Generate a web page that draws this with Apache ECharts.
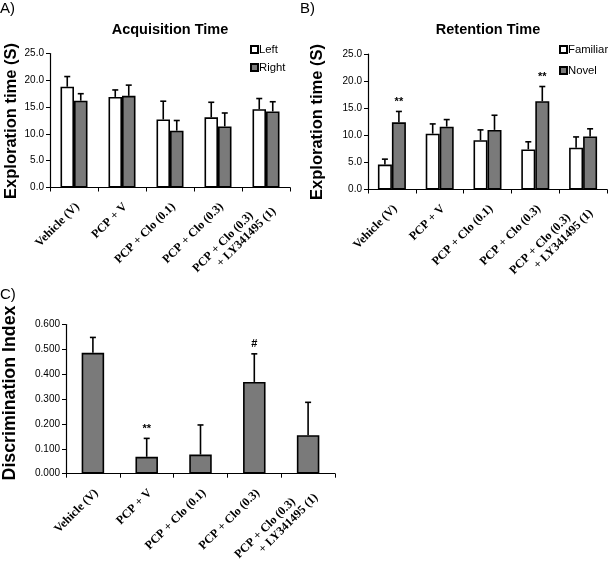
<!DOCTYPE html>
<html>
<head>
<meta charset="utf-8">
<script src="https://cdn.jsdelivr.net/npm/echarts@6/dist/echarts.min.js"></script>
<style>
html,body{margin:0;padding:0;background:#fff;}
#chart{width:608px;height:561px;}
</style>
</head>
<body>
<div id="chart"></div>
<script>
// ---------- data ----------
const categories = ['Vehicle (V)', 'PCP + V', 'PCP + Clo (0.1)', 'PCP + Clo (0.3)', 'PCP + Clo (0.3)\n+ LY341495 (1)'];

// Panel A: Acquisition time
const acqLeft = [18.8, 16.9, 12.7, 13.1, 14.6];
const acqLeftErr = [1.9, 1.3, 3.4, 2.8, 2.0];
const acqRight = [16.2, 17.1, 10.6, 11.4, 14.2];
const acqRightErr = [1.3, 2.0, 1.9, 2.5, 1.8];

// Panel B: Retention time
const retFamiliar = [4.6, 10.3, 9.1, 7.4, 7.7];
const retFamiliarErr = [1.0, 1.8, 1.9, 1.4, 2.0];
const retNovel = [12.4, 11.6, 11.0, 16.3, 9.8];
const retNovelErr = [2.0, 1.3, 2.7, 2.7, 1.4];
const retNovelSig = ['**', '', '', '**', ''];

// Panel C: Discrimination index
const discIndex = [0.486, 0.068, 0.077, 0.369, 0.155];
const discErr = [0.062, 0.074, 0.119, 0.113, 0.132];
const discSig = ['', '**', '', '#', ''];

// ---------- styling helpers ----------
const GRAY = '#7a7a7a';
const labelFont = {fontFamily: 'Liberation Serif', fontWeight: 'bold', fontSize: 12, color: '#000'};

function errData(vals, errs, sig) {
  return vals.map((v, i) => [i, v, errs[i], sig ? sig[i] : '']);
}

function errSeries(name, grid, vals, errs, sig, dxFrac) {
  return {
    type: 'custom', name: name, xAxisIndex: grid, yAxisIndex: grid, z: 5,
    data: errData(vals, errs, sig),
    renderItem: function (params, api) {
      const catW = api.size([1, 0])[0];
      const dx = catW * dxFrac;
      const base = api.coord([api.value(0), api.value(1)]);
      const top = api.coord([api.value(0), api.value(1) + api.value(2)]);
      const x = base[0] + dx;
      const children = [
        {type: 'line', shape: {x1: x, y1: base[1], x2: x, y2: top[1]}, style: {stroke: '#000', lineWidth: 1.6}},
        {type: 'line', shape: {x1: x - 3, y1: top[1], x2: x + 3, y2: top[1]}, style: {stroke: '#000', lineWidth: 1.6}}
      ];
      const s = sig ? sig[params.dataIndex] : '';
      if (s) {
        children.push({type: 'text', x: x, y: top[1] - 4,
          style: {text: s, fill: '#000', font: 'bold 11px "Liberation Sans"', textAlign: 'center', textVerticalAlign: 'bottom'}});
      }
      return {type: 'group', children: children};
    }
  };
}

function catLabel(value) {
  const parts = value.split('\n');
  if (parts.length > 1) {
    return '{a|' + parts[0] + '}\n{b|' + parts[1] + '}';
  }
  return value;
}

function xAxisCfg(grid) {
  return {
    type: 'category', gridIndex: grid, data: categories,
    axisLine: {lineStyle: {color: '#000', width: 1.2}},
    axisTick: {show: true, alignWithLabel: false, length: 4, lineStyle: {color: '#000', width: 1}},
    axisLabel: Object.assign({
      rotate: 45, margin: 21, interval: 0, align: 'right', lineHeight: 13, padding: [0, -5, 0, 0],
      formatter: catLabel,
      rich: {
        a: Object.assign({padding: [0, 19, 0, 0], lineHeight: 13}, labelFont),
        b: Object.assign({lineHeight: 13}, labelFont)
      }
    }, labelFont)
  };
}

function yAxisCfg(grid, max, interval, dec) {
  return {
    type: 'value', gridIndex: grid, min: 0, max: max, interval: interval,
    splitLine: {show: false},
    axisLine: {show: true, lineStyle: {color: '#000', width: 1.2}},
    axisTick: {show: true, length: 4, lineStyle: {color: '#000'}},
    axisLabel: {formatter: v => v.toFixed(dec), fontFamily: 'Liberation Sans', fontSize: 10, color: '#000', margin: 6}
  };
}

const barBorder = {borderColor: '#000', borderWidth: 1.6};
const legendText = {fontFamily: 'Liberation Sans', fontSize: 11.3, color: '#000', padding: [0, 0, 0, -4]};

const option = {
  animation: false,
  backgroundColor: '#fff',
  grid: [
    {left: 50, top: 53.5, width: 240, height: 134, outerBoundsMode: 'none', containLabel: false},
    {left: 368, top: 54, width: 239, height: 135.5, outerBoundsMode: 'none', containLabel: false},
    {left: 66, top: 324.5, width: 269, height: 149.2, outerBoundsMode: 'none', containLabel: false}
  ],
  xAxis: [xAxisCfg(0), xAxisCfg(1), xAxisCfg(2)],
  yAxis: [yAxisCfg(0, 25, 5, 1), yAxisCfg(1, 25, 5, 1), yAxisCfg(2, 0.6, 0.1, 3)],
  legend: [
    {data: ['Left', 'Right'], orient: 'vertical', left: 250, top: 44, padding: 0, itemWidth: 7, itemHeight: 7, itemGap: 7,
      icon: 'rect', textStyle: legendText},
    {data: ['Familiar', 'Novel'], orient: 'vertical', left: 559, top: 44, padding: 0, itemWidth: 7, itemHeight: 7, itemGap: 10,
      icon: 'rect', textStyle: legendText}
  ],
  series: [
    {type: 'bar', name: 'Left', xAxisIndex: 0, yAxisIndex: 0, data: acqLeft, barWidth: 13.5, barGap: '0%',
      itemStyle: Object.assign({color: '#fff'}, barBorder)},
    {type: 'bar', name: 'Right', xAxisIndex: 0, yAxisIndex: 0, data: acqRight, barWidth: 13.5, barGap: '0%',
      itemStyle: Object.assign({color: GRAY}, barBorder)},
    errSeries('LeftErr', 0, acqLeft, acqLeftErr, null, -13.5 / 2 / 48),
    errSeries('RightErr', 0, acqRight, acqRightErr, null, 13.5 / 2 / 48),

    {type: 'bar', name: 'Familiar', xAxisIndex: 1, yAxisIndex: 1, data: retFamiliar, barWidth: 14, barGap: '0%',
      itemStyle: Object.assign({color: '#fff'}, barBorder)},
    {type: 'bar', name: 'Novel', xAxisIndex: 1, yAxisIndex: 1, data: retNovel, barWidth: 14, barGap: '0%',
      itemStyle: Object.assign({color: GRAY}, barBorder)},
    errSeries('FamErr', 1, retFamiliar, retFamiliarErr, null, -14 / 2 / 47.8),
    errSeries('NovErr', 1, retNovel, retNovelErr, retNovelSig, 14 / 2 / 47.8),

    {type: 'bar', name: 'Discrimination Index', xAxisIndex: 2, yAxisIndex: 2, data: discIndex, barWidth: 22.5,
      itemStyle: Object.assign({color: GRAY}, barBorder)},
    errSeries('DiscErr', 2, discIndex, discErr, discSig, 0)
  ],
  graphic: [
    {type: 'text', x: 0, y: 1, style: {text: 'A)', font: '15px "Liberation Sans"', fill: '#000'}},
    {type: 'text', x: 300, y: 1, style: {text: 'B)', font: '15px "Liberation Sans"', fill: '#000'}},
    {type: 'text', x: 0, y: 287, style: {text: 'C)', font: '15px "Liberation Sans"', fill: '#000'}},
    {type: 'text', x: 170, y: 30, style: {text: 'Acquisition Time', font: 'bold 14.5px "Liberation Sans"', fill: '#000', textAlign: 'center', textVerticalAlign: 'middle'}},
    {type: 'text', x: 488, y: 30, style: {text: 'Retention Time', font: 'bold 14.5px "Liberation Sans"', fill: '#000', textAlign: 'center', textVerticalAlign: 'middle'}},
    {type: 'text', x: 11, y: 121, rotation: Math.PI / 2, style: {text: 'Exploration time (S)', font: 'bold 16.5px "Liberation Sans"', fill: '#000', textAlign: 'center', textVerticalAlign: 'middle'}},
    {type: 'text', x: 317, y: 122, rotation: Math.PI / 2, style: {text: 'Exploration time (S)', font: 'bold 16.5px "Liberation Sans"', fill: '#000', textAlign: 'center', textVerticalAlign: 'middle'}},
    {type: 'text', x: 10, y: 393, rotation: Math.PI / 2, style: {text: 'Discrimination Index', font: 'bold 17.8px "Liberation Sans"', fill: '#000', textAlign: 'center', textVerticalAlign: 'middle'}}
  ]
};

const chart = echarts.init(document.getElementById('chart'), null, {renderer: 'canvas'});
chart.setOption(option);
</script>
</body>
</html>
